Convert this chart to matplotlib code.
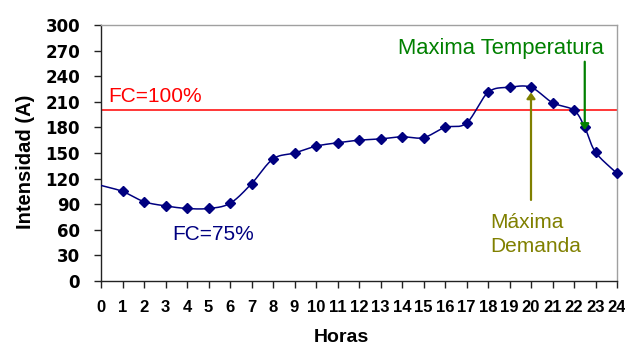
import numpy as np
import matplotlib
matplotlib.use("Agg")
import matplotlib.pyplot as plt

# Hourly current profile (A); the 22.5 h point marks the temperature peak
hours = [0, 1, 2, 3, 4, 5, 6, 7, 8, 9, 10, 11, 12, 13, 14, 15, 16, 17, 18, 19,
         20, 21, 22, 22.5, 23, 24]
current = [112, 105, 93, 88, 85, 85, 91, 114, 143, 150, 158, 162, 165, 166.5,
           169, 168, 180, 185, 221, 227, 227, 209, 200, 180, 151, 126]

full_load = 200          # FC = 100 %
peak_demand_hour = 20
peak_temp_hour = 22.5

x_ticks = list(range(0, 25))
y_ticks = list(range(0, 301, 30))

SANS = ["Liberation Sans", "DejaVu Sans"]
NARROW = ["Liberation Sans Narrow", "Liberation Sans", "DejaVu Sans"]


def smooth(xs, ys, sx, sy, n=20):
    """Catmull-Rom curve through the points, computed in screen-like units."""
    px = np.asarray(xs, float) * sx
    py = np.asarray(ys, float) * sy
    P = np.column_stack([px, py])
    P = np.vstack([2 * P[0] - P[1], P, 2 * P[-1] - P[-2]])
    out = []
    for i in range(1, len(P) - 2):
        p0, p1, p2, p3 = P[i - 1], P[i], P[i + 1], P[i + 2]
        t = np.linspace(0, 1, n, endpoint=False)[:, None]
        seg = 0.5 * ((2 * p1) + (-p0 + p2) * t + (2 * p0 - 5 * p1 + 4 * p2 - p3) * t ** 2
                     + (-p0 + 3 * p1 - 3 * p2 + p3) * t ** 3)
        out.append(seg)
    out.append(P[-2][None, :])
    c = np.vstack(out)
    return c[:, 0] / sx, c[:, 1] / sy


fig = plt.figure(figsize=(6.25, 3.45), dpi=100)
ax = fig.add_axes([0.1616, 0.1855, 0.8256, 0.742])

ax.set_xlim(0, 24)
ax.set_ylim(0, 300)

navy = "#000080"
cx, cy = smooth(hours, current, 516 / 24, 256 / 300)
ax.plot(cx, cy, color=navy, lw=1.1, zorder=3)
ax.plot(hours[1:], current[1:], linestyle="none", marker="D", ms=4.6,
        color=navy, clip_on=False, zorder=4)

ax.axhline(full_load, color="#ff0000", lw=1.1, zorder=2)

ax.set_xticks(x_ticks)
ax.set_yticks(y_ticks)
ax.set_xticklabels([str(h) for h in x_ticks], fontfamily=NARROW,
                   fontweight="bold", fontsize=12)
ax.set_yticklabels([str(v) for v in y_ticks], fontweight="bold", fontsize=12)
ax.tick_params(axis="both", direction="out", length=5, width=1, color="#222222")
ax.tick_params(axis="y", pad=10)
ax.tick_params(axis="x", pad=9)

for side in ("top", "right"):
    ax.spines[side].set_color("#a0a0a0")
for side in ("left", "bottom"):
    ax.spines[side].set_color("#222222")
for s in ax.spines.values():
    s.set_linewidth(1.0)

ax.set_ylabel("Intensidad (A)", fontsize=14.5, fontweight="bold",
              fontfamily=SANS, va="center")
ax.yaxis.set_label_coords(-0.147, 0.467)
ax.set_xlabel("Horas", fontsize=14, fontweight="bold", fontfamily=SANS, va="top")
ax.xaxis.set_label_coords(0.466, -0.186)

txt = dict(fontsize=15, fontfamily=SANS)
ax.text(0.33, 210, "FC=100%", color="#ff0000", **txt)
ax.text(3.33, 48, "FC=75%", color=navy, **txt)
ax.text(13.8, 266, "Maxima Temperatura", color="#008000",
        fontsize=15.8, fontfamily=SANS)
ax.text(18.1, 62, "Máxima", color="#808000", **txt)
ax.text(18.1, 34, "Demanda", color="#808000", **txt)

head = "-|>,head_length=0.35,head_width=0.25"
ax.annotate("", xy=(peak_demand_hour, 221), xytext=(peak_demand_hour, 95),
            arrowprops=dict(arrowstyle=head, color="#808000", lw=1.6,
                            mutation_scale=10, shrinkA=0, shrinkB=0), zorder=5)
ax.annotate("", xy=(peak_temp_hour, 177), xytext=(peak_temp_hour, 257),
            arrowprops=dict(arrowstyle=head, color="#008000", lw=1.6,
                            mutation_scale=10, shrinkA=0, shrinkB=0), zorder=5)

fig.savefig("out.png", dpi=100)
